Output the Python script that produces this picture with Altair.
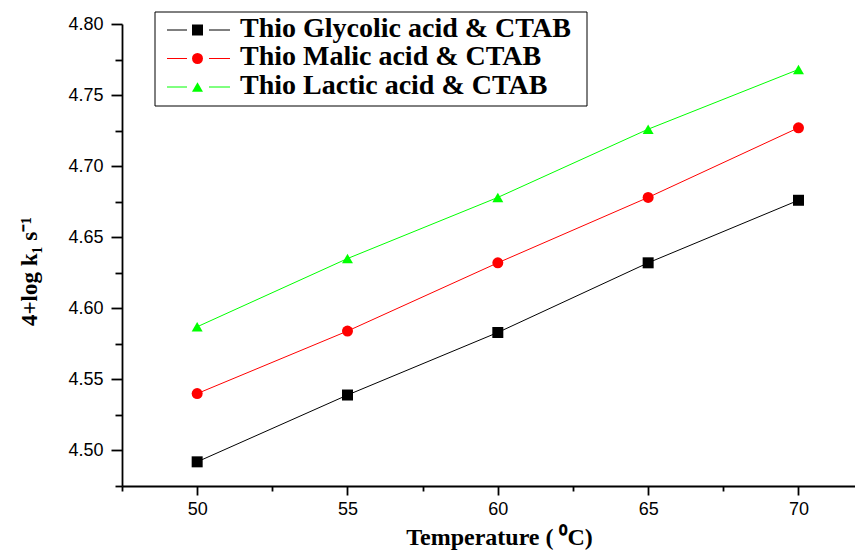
import altair as alt
import pandas as pd

SERIES = ["Thio Glycolic acid & CTAB", "Thio Malic acid & CTAB", "Thio Lactic acid & CTAB"]
TEMPERATURE = [50, 55, 60, 65, 70]
GLYCOLIC = [4.492, 4.539, 4.583, 4.632, 4.676]
MALIC = [4.540, 4.584, 4.632, 4.678, 4.727]
LACTIC = [4.587, 4.635, 4.678, 4.726, 4.768]
COLORS = ["#000000", "#ff0000", "#00ff00"]
SHAPES = ["square", "circle", "triangle-up"]
MARKER_SIZES = [121, 120, 180]
X_TICKS = [47.5, 50, 52.5, 55, 57.5, 60, 62.5, 65, 67.5, 70]
Y_TICKS = [4.475, 4.5, 4.525, 4.55, 4.575, 4.6, 4.625, 4.65, 4.675, 4.7, 4.725, 4.75, 4.775, 4.8]

rows = []
for s, vals in zip(SERIES, [GLYCOLIC, MALIC, LACTIC]):
    for t, v in zip(TEMPERATURE, vals):
        rows.append({"series": s, "temp": t, "value": v})
df = pd.DataFrame(rows)
leg_df = pd.DataFrame({"series": SERIES, "row": list(range(len(SERIES)))})

color_scale = alt.Scale(domain=SERIES, range=COLORS)
shape_scale = alt.Scale(domain=SERIES, range=SHAPES)
size_scale = alt.Scale(domain=SERIES, range=MARKER_SIZES)

x_axis = alt.Axis(
    values=X_TICKS,
    labelExpr="datum.value % 5 === 0 ? format(datum.value, 'd') : ''",
    tickSize={"condition": {"test": "datum.value % 5 === 0", "value": 9}, "value": 5},
    grid=False, domainColor="black", domainWidth=1.8, tickColor="black", tickWidth=1.8,
    labelFont="Liberation Sans", labelFontSize=18, labelColor="black", labelPadding=5,
    labelOverlap=False,
    title="Temperature ( \u2070C)", titleFont="Liberation Serif", titleFontWeight="bold",
    titleFontSize=24, titleColor="black", titleX=377, titleY=58, titleAlign="center",
    titleBaseline="alphabetic",
)
y_major = "abs(round(datum.value*1000) % 50) < 1"
y_axis = alt.Axis(
    values=Y_TICKS,
    labelExpr=y_major + " ? format(datum.value, '.2f') : ''",
    tickSize={"condition": {"test": y_major, "value": 11}, "value": 7},
    grid=False, domainColor="black", domainWidth=1.8, tickColor="black", tickWidth=1.8,
    labelFont="Liberation Sans", labelFontSize=18, labelColor="black", labelPadding=8,
    labelOverlap=False,
    title="4+log k\u2081 s\u207b\u00b9", titleFont="Liberation Serif", titleFontWeight="bold",
    titleFontSize=23, titleColor="black", titleX=-86, titleY=247, titleAlign="center",
    titleBaseline="alphabetic", titleAngle=270,
)

x = alt.X("temp:Q", scale=alt.Scale(domain=[47.5, 71.88], nice=False, zero=False), axis=x_axis)
y = alt.Y("value:Q", scale=alt.Scale(domain=[4.475, 4.80], nice=False, zero=False), axis=y_axis)
color = alt.Color("series:N", scale=color_scale, legend=None)
shape = alt.Shape("series:N", scale=shape_scale, legend=None)
size = alt.Size("series:N", scale=size_scale, legend=None)

lines = alt.Chart(df).mark_line(strokeWidth=1).encode(x=x, y=y, color=color)
points = alt.Chart(df).mark_point(filled=True, opacity=1).encode(
    x=x, y=y, color=color, shape=shape, size=size)

# legend (drawn manually)
box = alt.Chart(alt.Data(values=[{}])).mark_rect(
    fill="white", stroke="black", strokeWidth=1
).encode(x=alt.value(33), x2=alt.value(465), y=alt.value(-12), y2=alt.value(82))

leg_base = alt.Chart(leg_df).transform_calculate(py="6 + 28.5*datum.row")
leg_y = alt.Y("py:Q", scale=None)
tail_l = leg_base.mark_rule(strokeWidth=1).encode(
    x=alt.value(45), x2=alt.value(65), y=leg_y, color=color)
tail_r = leg_base.mark_rule(strokeWidth=1).encode(
    x=alt.value(87), x2=alt.value(108), y=leg_y, color=color)
leg_pts = leg_base.mark_point(filled=True, opacity=1).encode(
    x=alt.value(75.5), y=leg_y, color=color, shape=shape, size=size)
leg_txt = alt.Chart(leg_df).transform_calculate(ty="12.5 + 28.5*datum.row").mark_text(
    align="left", baseline="alphabetic", font="Liberation Serif", fontWeight="bold",
    fontSize=28, color="black"
).encode(x=alt.value(118), y=alt.Y("ty:Q", scale=None), text="series:N")

chart = alt.layer(lines, points, box, tail_l, tail_r, leg_pts, leg_txt).properties(
    width=733, height=462,
    padding={"left": 114, "top": 16, "right": 0, "bottom": 66},
    autosize=alt.AutoSizeParams(type="none"),
    background="white",
).configure_view(stroke=None)

chart.save("out.html", embed_options={"renderer": "svg", "actions": False})
